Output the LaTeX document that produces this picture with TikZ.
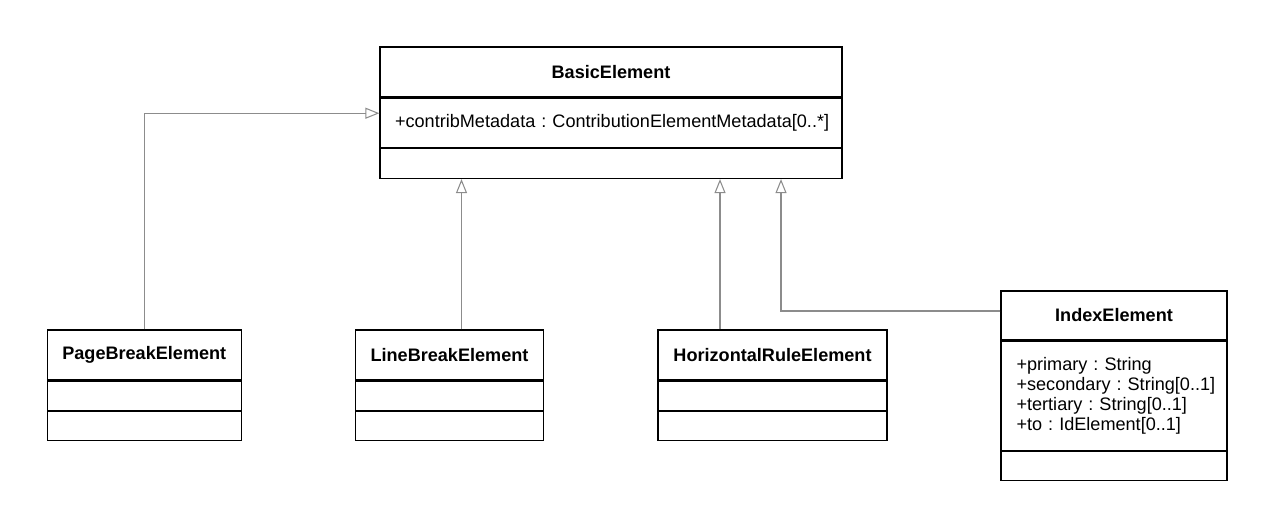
\documentclass[tikz,border=0pt]{standalone}
\usepackage{fontspec}
\setmainfont{Liberation Sans}
\frenchspacing
\usetikzlibrary{arrows.meta,positioning}
\definecolor{linegray}{RGB}{140,140,140}
\tikzset{
  umlbox/.style   = {draw=black, line width=0.7pt, inner sep=0pt,
                     font=\fontsize{10.3}{11.4}\selectfont},
  umltitle/.style = {umlbox, font=\fontsize{10.3}{11.4}\selectfont\bfseries},
  umlpart/.style  = {umlbox, align=left, inner xsep=0.3cm},
  gen/.style      = {-{Triangle[open,length=2.8mm,width=2.2mm]},
                     line width=0.6pt, draw=linegray} % generalization
}

\begin{document}
\begin{tikzpicture}

\useasboundingbox (0,0) rectangle (25.5,-10.54);

% --- base class (top) ---
\node[umltitle, minimum width=9.24cm, minimum height=1cm] (basic) at (12.22,-1.44) {BasicElement};
\node[umlpart, text width=8.64cm, minimum height=0.98cm, below=0pt of basic] (basic-attr)
  {\mbox{+contribMetadata : ContributionElementMetadata[0..*]}};
\node[umlbox, minimum width=9.24cm, minimum height=0.6cm, below=0pt of basic-attr] (basic-ops) {};

% --- empty subclasses (bottom row) ---
\foreach \x/\w/\id/\txt in {2.886/3.88/pb/PageBreakElement, 8.99/3.76/lb/LineBreakElement,
                            15.45/4.58/hr/HorizontalRuleElement}{
  \node[umltitle, minimum width=\w cm, minimum height=1cm] (\id) at (\x,-7.1) {\txt};
  \node[umlbox, minimum width=\w cm, minimum height=0.58cm, below=0pt of \id] (\id-attr) {};
  \node[umlbox, minimum width=\w cm, minimum height=0.58cm, below=0pt of \id-attr] (\id-ops) {};
}

% --- index class (right) ---
\node[umltitle, minimum width=4.52cm, minimum height=0.98cm] (index) at (22.28,-6.31) {IndexElement};
\node[umlpart, text width=3.9cm, inner xsep=0.31cm, minimum height=2.18cm, below=0pt of index] (index-attr)
  {\mbox{+primary : String}\\\mbox{+secondary : String[0..1]}\\
   \mbox{+tertiary : String[0..1]}\\\mbox{+to : IdElement[0..1]}};
\node[umlbox, minimum width=4.52cm, minimum height=0.58cm, below=0pt of index-attr] (index-ops) {};

% --- generalizations ---
\draw[gen] (pb.north) |- ([yshift=0.19cm]basic-attr.west);
\coordinate (lbfoot) at ([xshift=0.24cm]lb.north);
\draw[gen] (lbfoot) -- (lbfoot |- basic-ops.south);
\coordinate (hrfoot) at ([xshift=-1.05cm]hr.north);
\draw[gen] (hrfoot) -- (hrfoot |- basic-ops.south);
\coordinate (idxtip) at ([xshift=3.4cm]basic-ops.south);
\draw[gen] ([yshift=0.09cm]index.west) -| (idxtip);

\end{tikzpicture}
\end{document}
